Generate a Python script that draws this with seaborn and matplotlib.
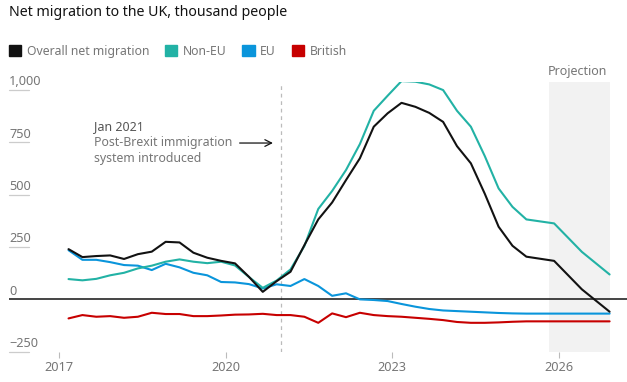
import pandas as pd
import seaborn as sns
import matplotlib.pyplot as plt
import matplotlib.transforms as mtransforms
from matplotlib.patches import Patch

# periods: quarterly rolling figures, then the projection points
periods = list(pd.date_range("2017-03-01", "2025-06-01", freq="3MS")) + \
    list(pd.to_datetime(["2025-12-01", "2026-06-01", "2026-12-01"]))

overall = [240, 202, 207, 210, 193, 216, 228, 275, 272, 223, 199, 184, 172, 108, 36, 87,
           132, 259, 382, 463, 570, 674, 825, 889, 939, 920, 891, 848, 732, 650, 505, 347,
           256, 204, 184, 48, -59]
non_eu = [97, 91, 98, 115, 127, 148, 161, 180, 191, 180, 173, 180, 162, 107, 55, 90,
          143, 255, 432, 518, 618, 742, 901, 973, 1043, 1040, 1027, 1000, 901, 825, 685, 530,
          442, 382, 363, 227, 119]
eu = [235, 189, 189, 178, 164, 161, 140, 170, 153, 127, 115, 83, 81, 73, 52, 72,
      64, 97, 64, 17, 29, 0, -3, -8, -22, -35, -46, -53, -56, -59, -62, -65,
      -67, -68, -68, -68, -68]
british = [-91, -75, -83, -80, -88, -83, -64, -70, -70, -80, -80, -77, -73, -72, -69, -75,
           -75, -83, -112, -67, -85, -64, -75, -80, -83, -88, -93, -99, -108, -112, -112, -110,
           -107, -105, -105, -105, -105]

series_names = ["British", "EU", "Non-EU", "Overall net migration"]
colors = {"Overall net migration": "#121212", "Non-EU": "#22b2a5",
          "EU": "#0a95db", "British": "#c70000"}
yticks = [-250, 0, 250, 500, 750, 1000]
ylabels = ["\u2212250", "0", "250", "500", "750", "1,000"]
xticks = [2017, 2020, 2023, 2026]

years = [p.year + (p.month - 1) / 12 for p in periods]
df = pd.DataFrame({"year": years * 4,
                   "value": british + eu + non_eu + overall,
                   "series": sum([[s] * len(years) for s in series_names], [])})

sns.set_theme(style="white")
plt.rcParams["font.family"] = ["Noto Sans", "DejaVu Sans"]

fig = plt.figure(figsize=(6.27, 3.82), dpi=100)
ax = fig.add_axes([9 / 627, 1 - 351.7 / 382, 618 / 627, 270 / 382])

ax.axvspan(2025.83, 2026.917, color="#f2f2f2", lw=0, zorder=0)
ax.axvline(2021.0, color="#bbbbbb", lw=0.9, ls=(0, (3, 3)), zorder=1)
ax.axhline(0, color="#121212", lw=1.1, zorder=2)

sns.lineplot(data=df, x="year", y="value", hue="series", hue_order=series_names,
             palette=colors, linewidth=1.5, legend=False, ax=ax, zorder=3)

ax.set_xlim(2016.094, 2027.23)
ax.set_ylim(-250, 1040)
ax.set_xlabel("")
ax.set_ylabel("")
sns.despine(ax=ax, left=True, bottom=True)
ax.set_yticks([])
ax.set_xticks(xticks)
ax.set_xticklabels([str(x) for x in xticks])
ax.tick_params(axis="x", length=4, width=0.8, color="#bbbbbb", labelcolor="#767676",
               labelsize=9.2, pad=3, bottom=True)

# y labels sit above short grey gridlines at the left
ytrans = ax.get_yaxis_transform()
lab_trans = mtransforms.offset_copy(ytrans, fig=fig, y=3.5, units="points")
for v, lab in zip(yticks, ylabels):
    if v != 0:
        ax.plot([0, 20 / 618], [v, v], transform=ytrans, color="#cccccc", lw=0.9,
                clip_on=False)
    ax.text(0, v, lab, transform=lab_trans, ha="left", va="baseline",
            fontsize=9.2, color="#767676")

# annotation
ax.text(2017.63, 825, "Jan 2021", fontsize=9, fontweight="bold", color="#555555",
        va="center", ha="left")
ax.text(2017.63, 709, "Post-Brexit immigration\nsystem introduced", fontsize=8.9,
        color="#767676", va="center", ha="left", linespacing=1.3)
ax.annotate("", xy=(2020.9, 747), xytext=(2020.2, 747),
            arrowprops=dict(arrowstyle="->", color="#121212", lw=0.9))
ax.text(2025.80, 1091, "Projection", fontsize=9, color="#767676", ha="left",
        va="center", clip_on=False)

fig.text(9 / 627, 1 - 12 / 382, "Net migration to the UK, thousand people",
         fontsize=10.2, color="#121212", ha="left", va="center")

handles = [Patch(color=colors[s], label=s) for s in
           ["Overall net migration", "Non-EU", "EU", "British"]]
fig.legend(handles=handles, loc="upper left", bbox_to_anchor=(9 / 627, 1 - 45 / 382),
           ncol=4, frameon=False, fontsize=8.8, handlelength=1.0, handleheight=1.0,
           handletextpad=0.45, columnspacing=1.3, borderpad=0, borderaxespad=0,
           labelcolor="#767676")

fig.savefig("out.png", dpi=100)
